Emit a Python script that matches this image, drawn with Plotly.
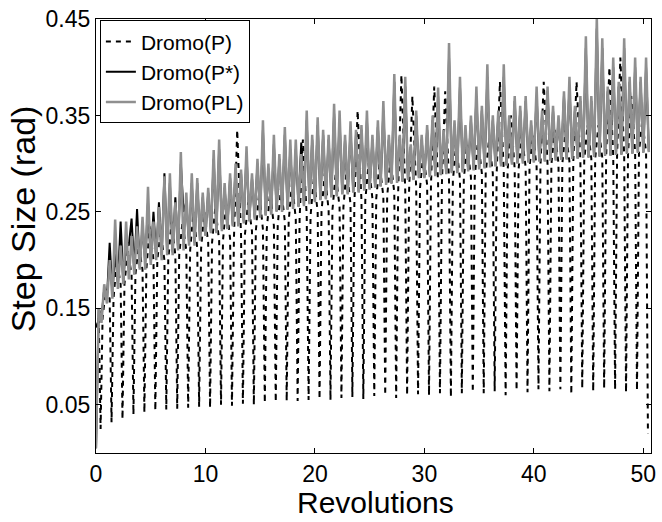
import numpy as np
import plotly.graph_objects as go

# ---------------- data ----------------
# Dromo(PL): sampled every quarter revolution, 0 .. 50.5
pl_y = [
    0.005, 0.15, 0.135, 0.175,   0.155, 0.20, 0.16, 0.242,
    0.17, 0.215, 0.175, 0.24,    0.18, 0.225, 0.185, 0.235,
    0.19, 0.245, 0.19, 0.276,    0.195, 0.24, 0.2, 0.255,
    0.2, 0.287, 0.205, 0.29,     0.205, 0.26, 0.21, 0.312,
    0.21, 0.27, 0.215, 0.29,     0.215, 0.285, 0.22, 0.27,
    0.225, 0.275, 0.228, 0.314,  0.228, 0.325, 0.23, 0.28,
    0.232, 0.29, 0.235, 0.30,    0.235, 0.294, 0.238, 0.318,
    0.24, 0.29, 0.242, 0.305,    0.244, 0.345, 0.246, 0.30,
    0.247, 0.33, 0.25, 0.31,     0.25, 0.338, 0.252, 0.325,
    0.253, 0.325, 0.255, 0.31,   0.256, 0.355, 0.258, 0.33,
    0.26, 0.348, 0.262, 0.335,   0.263, 0.33, 0.265, 0.362,
    0.266, 0.355, 0.268, 0.33,   0.268, 0.344, 0.27, 0.335,
    0.27, 0.34, 0.272, 0.355,    0.273, 0.33, 0.275, 0.345,
    0.276, 0.365, 0.278, 0.33,   0.279, 0.393, 0.28, 0.33,
    0.281, 0.39, 0.283, 0.32,    0.283, 0.355, 0.285, 0.33,
    0.285, 0.34, 0.286, 0.35,    0.287, 0.379, 0.288, 0.335,
    0.289, 0.425, 0.29, 0.345,   0.29, 0.39, 0.291, 0.34,
    0.292, 0.35, 0.293, 0.38,    0.294, 0.36, 0.295, 0.403,
    0.296, 0.35, 0.297, 0.355,   0.297, 0.403, 0.298, 0.35,
    0.299, 0.37, 0.30, 0.36,     0.30, 0.37, 0.301, 0.345,
    0.301, 0.38, 0.302, 0.355,   0.302, 0.38, 0.303, 0.36,
    0.303, 0.35, 0.304, 0.375,   0.304, 0.39, 0.305, 0.36,
    0.305, 0.37, 0.306, 0.432,   0.306, 0.37, 0.307, 0.452,
    0.307, 0.43, 0.308, 0.38,    0.308, 0.41, 0.309, 0.385,
    0.309, 0.43, 0.31, 0.39,     0.31, 0.41, 0.311, 0.39,
    0.311, 0.41, 0.312,
]

# Dromo(P*): same sampling
pstar_y = [
    0.005, 0.15, 0.14, 0.17,     0.16, 0.218, 0.165, 0.21,
    0.175, 0.24, 0.178, 0.22,    0.215, 0.243, 0.19, 0.253,
    0.192, 0.235, 0.198, 0.26,   0.2, 0.25, 0.203, 0.26,
    0.205, 0.29, 0.208, 0.28,    0.208, 0.265, 0.212, 0.30,
    0.25, 0.26, 0.218, 0.28,     0.218, 0.28, 0.222, 0.265,
    0.226, 0.27, 0.229, 0.305,   0.23, 0.315, 0.232, 0.275,
    0.234, 0.285, 0.236, 0.295,  0.237, 0.29, 0.24, 0.31,
    0.241, 0.285, 0.244, 0.30,   0.245, 0.335, 0.247, 0.295,
    0.248, 0.32, 0.251, 0.305,   0.251, 0.33, 0.253, 0.315,
    0.254, 0.315, 0.256, 0.322,  0.257, 0.345, 0.259, 0.325,
    0.261, 0.34, 0.263, 0.33,    0.264, 0.325, 0.266, 0.352,
    0.267, 0.345, 0.269, 0.325,  0.269, 0.335, 0.271, 0.33,
    0.271, 0.335, 0.273, 0.345,  0.274, 0.325, 0.276, 0.338,
    0.277, 0.355, 0.279, 0.325,  0.28, 0.385, 0.281, 0.325,
    0.282, 0.38, 0.284, 0.315,   0.284, 0.35, 0.286, 0.325,
    0.286, 0.335, 0.287, 0.345,  0.288, 0.37, 0.289, 0.33,
    0.29, 0.41, 0.291, 0.34,     0.291, 0.38, 0.292, 0.335,
    0.293, 0.345, 0.294, 0.37,   0.295, 0.355, 0.296, 0.39,
    0.297, 0.345, 0.298, 0.35,   0.298, 0.39, 0.299, 0.345,
    0.3, 0.365, 0.301, 0.355,    0.301, 0.365, 0.302, 0.34,
    0.302, 0.37, 0.303, 0.35,    0.303, 0.375, 0.304, 0.355,
    0.304, 0.345, 0.305, 0.37,   0.305, 0.38, 0.306, 0.355,
    0.306, 0.365, 0.307, 0.42,   0.307, 0.365, 0.308, 0.44,
    0.308, 0.42, 0.309, 0.375,   0.309, 0.4, 0.31, 0.38,
    0.31, 0.42, 0.311, 0.385,    0.311, 0.4, 0.312, 0.385,
    0.312, 0.4, 0.313,
]

# Dromo(P): one deep dip per revolution
p_top = [
    0.14, 0.16, 0.175, 0.185, 0.19, 0.2, 0.2, 0.205, 0.21, 0.212,
    0.218, 0.22, 0.222, 0.226, 0.23, 0.232, 0.236, 0.24, 0.243, 0.246,
    0.25, 0.252, 0.255, 0.258, 0.262, 0.264, 0.266, 0.27, 0.272, 0.275,
    0.278, 0.28, 0.282, 0.284, 0.286, 0.29, 0.29, 0.292, 0.294, 0.296,
    0.297, 0.299, 0.3, 0.302, 0.303, 0.305, 0.306, 0.308, 0.309, 0.311,
    0.312,
]
p_low = [
    0.025, 0.032, 0.035, 0.04, 0.042, 0.044, 0.045, 0.046, 0.047, 0.048,
    0.047, 0.05, 0.049, 0.051, 0.05, 0.052, 0.053, 0.054, 0.054, 0.055,
    0.056, 0.055, 0.057, 0.058, 0.056, 0.059, 0.06, 0.057, 0.06, 0.061,
    0.06, 0.062, 0.058, 0.062, 0.063, 0.062, 0.064, 0.06, 0.065, 0.063,
    0.066, 0.064, 0.066, 0.061, 0.067, 0.064, 0.067, 0.066, 0.063, 0.065,
    0.02,
]
p_hump = [
    0.17, 0.2, 0.21, 0.215, 0.235, 0.23, 0.24, 0.24, 0.25, 0.25,
    0.255, 0.26, 0.335, 0.26, 0.27, 0.27, 0.275, 0.28, 0.325, 0.285,
    0.29, 0.29, 0.295, 0.355, 0.3, 0.3, 0.305, 0.392, 0.37, 0.31,
    0.38, 0.375, 0.32, 0.32, 0.325, 0.325, 0.385, 0.35, 0.33, 0.33,
    0.385, 0.335, 0.335, 0.385, 0.34, 0.34, 0.40, 0.41, 0.37, 0.345,
    0.34,
]

x_ticks = [0, 10, 20, 30, 40, 50]
y_ticks = [0.05, 0.15, 0.25, 0.35, 0.45]
x_title = "Revolutions"
y_title = "Step Size (rad)"

# ---------------- build traces ----------------
STEP = 0.25
grid_x = [i * STEP for i in range(len(pl_y))]

DIP_START, DIP_MID, DIP_END, HUMP = 0.25, 0.42, 0.6, 0.9
p_x, p_y = [0.03], [0.13]
n = len(p_top)
for k in range(n):
    p_x += [k + DIP_START, k + DIP_MID]
    p_y += [p_top[k], p_low[k]]
    if k < n - 1:
        p_x += [k + DIP_END, k + HUMP]
        p_y += [p_top[k], p_hump[k]]

fig = go.Figure()
fig.add_trace(go.Scatter(x=p_x, y=p_y, mode="lines", name="Dromo(P)",
                         line=dict(color="black", width=2, dash="5px,5px")))
fig.add_trace(go.Scatter(x=grid_x, y=pstar_y, mode="lines", name="Dromo(P*)",
                         line=dict(color="black", width=2)))
fig.add_trace(go.Scatter(x=grid_x, y=pl_y, mode="lines", name="Dromo(PL)",
                         line=dict(color="#8f8f8f", width=2.5)))

font_family = "Liberation Sans, Arial, Helvetica, sans-serif"
axis_common = dict(showline=True, linecolor="black", linewidth=1.2, mirror="ticks",
                   ticks="inside", ticklen=5, tickcolor="black", showgrid=False,
                   zeroline=False, tickfont=dict(size=23, color="black"))

PLOT_L, PLOT_R, PLOT_T, PLOT_B = 96, 656, 14, 453
W, H = 662, 522
ph = PLOT_B - PLOT_T
pw = PLOT_R - PLOT_L

fig.update_layout(
    width=W, height=H,
    margin=dict(l=PLOT_L, r=W - PLOT_R, t=PLOT_T, b=H - PLOT_B),
    paper_bgcolor="white", plot_bgcolor="white",
    font=dict(family=font_family, color="black"),
    showlegend=True,
    legend=dict(x=0.007, y=0.997, xanchor="left", yanchor="top",
                bgcolor="white", bordercolor="black", borderwidth=1,
                font=dict(size=21), tracegroupgap=0, itemwidth=30),
    xaxis=dict(range=[0, 50.7], tickvals=x_ticks, **axis_common),
    yaxis=dict(range=[0, 0.45], tickvals=y_ticks, tickformat=".2f", **axis_common),
    annotations=[
        dict(text=x_title, xref="paper", yref="paper",
             x=(378 - PLOT_L) / pw, y=(PLOT_B - 503) / ph,
             xanchor="center", yanchor="middle", showarrow=False,
             font=dict(size=30, color="black")),
        dict(text=y_title, xref="paper", yref="paper",
             x=(22 - PLOT_L) / pw, y=(PLOT_B - 216) / ph, textangle=-90,
             xanchor="center", yanchor="middle", showarrow=False,
             font=dict(size=34, color="black")),
    ],
)

fig.write_html(
    "out.html",
    config={"displayModeBar": False},
    post_script="document.body.style.margin='0';document.body.style.overflow='hidden';",
)
